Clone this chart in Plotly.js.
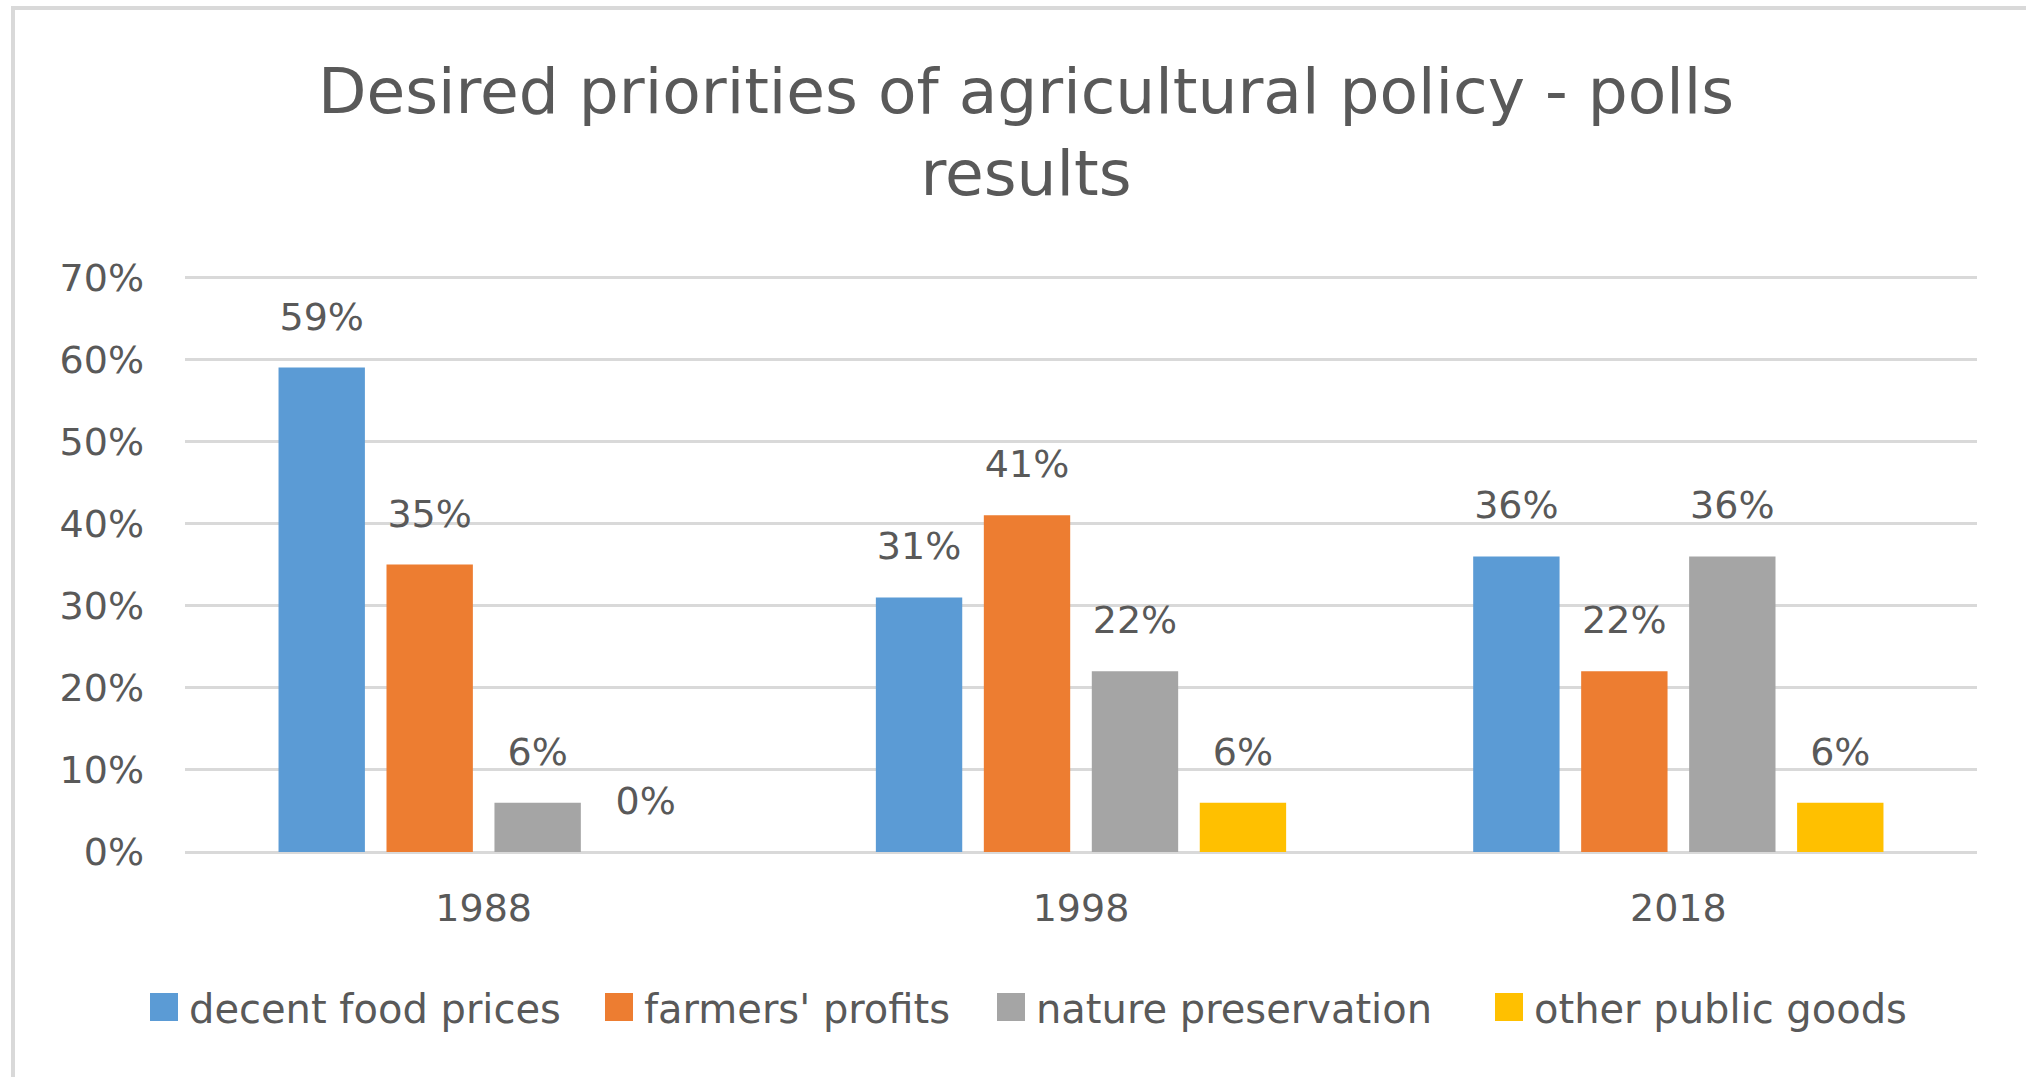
<!DOCTYPE html>
<html>
<head>
<meta charset="utf-8">
<script src="https://cdn.plot.ly/plotly-3.0.1.min.js"></script>
<style>
html, body { margin: 0; padding: 0; background: #fff; overflow: hidden; }
#chart { position: absolute; left: 0; top: 0; width: 2026px; height: 1077px; }
#frame { position: absolute; left: 11px; top: 6px; width: 2100px; height: 1200px;
         border-left: 4px solid #d9d9d9; border-top: 4px solid #d9d9d9; pointer-events: none; }
</style>
</head>
<body>
<div id="chart"></div>
<div id="frame"></div>
<script>
// ---- data ----
const years = ['1988', '1998', '2018'];
const seriesNames = ['decent food prices', "farmers' profits", 'nature preservation', 'other public goods'];
const decentFoodPrices = [0.59, 0.31, 0.36];
const farmersProfits = [0.35, 0.41, 0.22];
const naturePreservation = [0.06, 0.22, 0.36];
const otherPublicGoods = [0.00, 0.06, 0.06];
const titleText = 'Desired priorities of agricultural policy - polls<br>results';

// ---- styles ----
const seriesValues = [decentFoodPrices, farmersProfits, naturePreservation, otherPublicGoods];
const colors = ['#5B9BD5', '#ED7D31', '#A5A5A5', '#FFC000'];
const legendIds = ['legend', 'legend2', 'legend3', 'legend4'];
const legendX = [139, 594, 986, 1484];
const W = 2026, H = 1077;
const textColor = '#595959';
const FONT = 'DejaVu Sans, sans-serif';

const traces = [];
seriesValues.forEach((vals, i) => {
  traces.push({
    type: 'bar', x: years, y: vals, name: seriesNames[i],
    marker: { color: colors[i], line: { width: 0 } },
    legend: legendIds[i], hoverinfo: 'skip'
  });
});
// data labels as grouped text-scatter (same slots as bars)
seriesValues.forEach((vals, i) => {
  traces.push({
    type: 'scatter', mode: 'text+markers', x: years, y: vals,
    text: vals.map(v => Math.round(v * 100) + '%'),
    textposition: 'top center',
    textfont: { family: FONT, size: 38, color: textColor },
    marker: { size: 44, opacity: 0 },
    showlegend: false, hoverinfo: 'skip', cliponaxis: false
  });
});

const layout = {
  width: W, height: H,
  paper_bgcolor: '#ffffff', plot_bgcolor: '#ffffff',
  margin: { l: 185, r: 49, t: 276, b: 225, pad: 0 },
  barmode: 'group', bargap: 0.277, bargroupgap: 0.2,
  scattermode: 'group', scattergap: 0.277,
  title: {
    text: titleText,
    font: { family: FONT, size: 63, color: textColor },
    x: 1026 / W, xref: 'container', xanchor: 'center',
    y: 1 - 113 / H, yref: 'container', yanchor: 'top'
  },
  xaxis: {
    type: 'category', showgrid: false, showline: false, zeroline: false,
    ticks: '', ticklabelstandoff: 30,
    tickfont: { family: FONT, size: 38, color: textColor }
  },
  yaxis: {
    range: [0, 0.7015], dtick: 0.1, tickformat: '.0%',
    showgrid: true, gridcolor: '#d9d9d9', gridwidth: 3,
    zeroline: true, zerolinecolor: '#d9d9d9', zerolinewidth: 3,
    showline: false, ticks: '', ticklabelstandoff: 40,
    tickfont: { family: FONT, size: 38, color: textColor }
  },
  showlegend: true
};
legendIds.forEach((id, i) => {
  layout[id] = {
    orientation: 'h', xref: 'container', yref: 'container',
    x: legendX[i] / W, xanchor: 'left',
    y: 1 - 1007 / H, yanchor: 'middle',
    itemwidth: 40,
    font: { family: FONT, size: 40, color: textColor },
    bgcolor: 'rgba(0,0,0,0)', borderwidth: 0
  };
});

Plotly.newPlot('chart', traces, layout, { staticPlot: true, displayModeBar: false }).then(gd => {
  gd.querySelectorAll('.legendpoints path').forEach(p => {
    p.setAttribute('d', 'M14,14H-14V-14H14Z');
  });
});
</script>
</body>
</html>
